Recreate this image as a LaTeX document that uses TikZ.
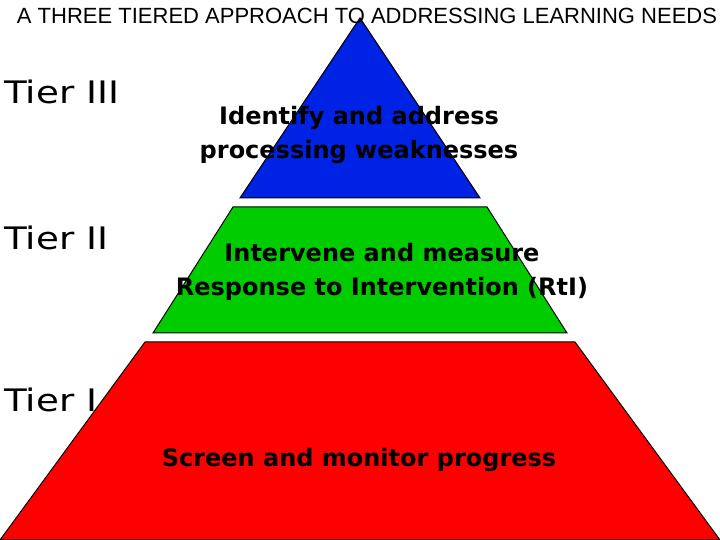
\documentclass[tikz,border=0pt]{standalone}
\usepackage{fontspec}
\setmainfont{Liberation Sans}
\newfontfamily\dvs{DejaVu Sans}
\begin{document}
\begin{tikzpicture}[x=1pt,y=1pt,
  tier/.style={draw=black,line width=1pt},
  lbl/.style={font=\dvs\fontsize{24}{34}\selectfont\bfseries,align=center,text=black},
  tierlbl/.style={font=\dvs\fontsize{31}{32}\selectfont,anchor=west,xscale=1.2,transform shape}]
\useasboundingbox (0,0) rectangle (720,540);
\fill[white] (0,0) rectangle (720,540);
\draw[tier,fill=blue!85!cyan!90!black] (360,522) -- (480,342) -- (240,342) -- cycle;
\draw[tier,fill=green!80!black] (233,333) -- (487,333) -- (567,207) -- (153,207) -- cycle;
\draw[tier,fill=red] (145,198) -- (575,198) -- (720,0) -- (0,0) -- cycle;
\node[font=\fontsize{22}{23}\selectfont] (title) at (367,524) {A THREE TIERED APPROACH TO ADDRESSING LEARNING NEEDS};
\node[tierlbl] (t3) at (0,448) {Tier III};
\node[tierlbl] (t2) at (0,302) {Tier II};
\node[tierlbl] (t1) at (0,140) {Tier I};
\node[lbl] (l3) at (359,405) {Identify and address\\processing weaknesses};
\node[lbl] (l2) at (382,268) {Intervene and measure\\Response to Intervention (RtI)};
\node[lbl] (l1) at (359,80) {Screen and monitor progress};
\end{tikzpicture}
\end{document}
